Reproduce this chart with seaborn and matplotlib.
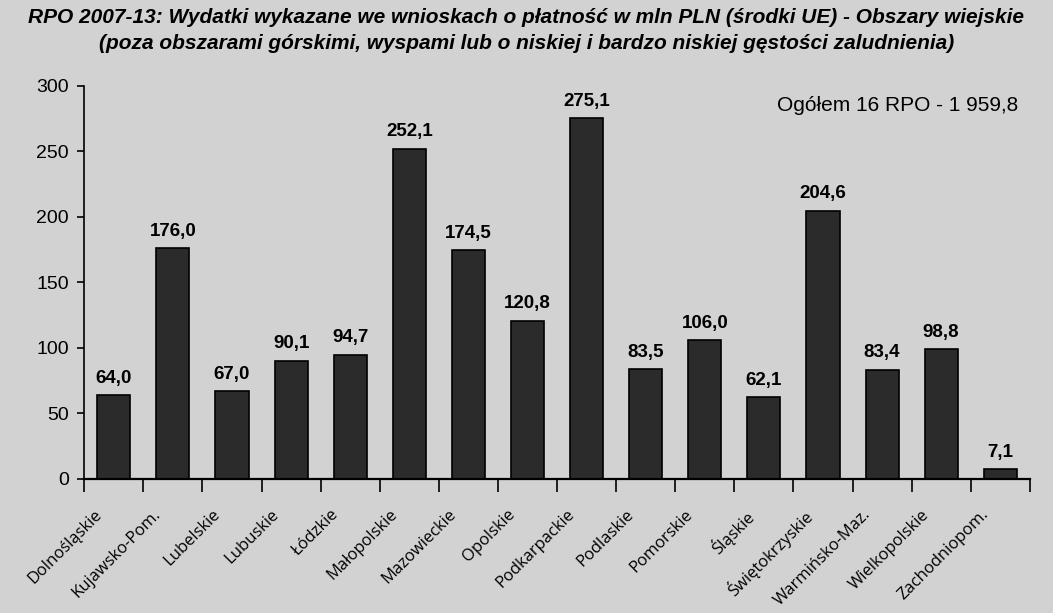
import seaborn as sns
import pandas as pd
import matplotlib.pyplot as plt
import matplotlib.transforms as mtrans

# Dane: wydatki w mln PLN (środki UE) wg województw
regiony = ['Dolnośląskie', 'Kujawsko-Pom.', 'Lubelskie', 'Lubuskie', 'Łódzkie',
           'Małopolskie', 'Mazowieckie', 'Opolskie', 'Podkarpackie', 'Podlaskie',
           'Pomorskie', 'Śląskie', 'Świętokrzyskie', 'Warmińsko-Maz.',
           'Wielkopolskie', 'Zachodniopom.']
wydatki = [64.0, 176.0, 67.0, 90.1, 94.7, 252.1, 174.5, 120.8, 275.1, 83.5,
           106.0, 62.1, 204.6, 83.4, 98.8, 7.1]
y_ticks = [0, 50, 100, 150, 200, 250, 300]

df = pd.DataFrame({'region': regiony, 'wydatki': wydatki})
suma = sum(wydatki)

sns.set_style('ticks')
plt.rcParams['font.family'] = ['Liberation Sans', 'DejaVu Sans']
plt.rcParams['text.color'] = 'black'
plt.rcParams['xtick.color'] = 'black'
plt.rcParams['ytick.color'] = 'black'
plt.rcParams['axes.edgecolor'] = 'black'

tlo = '#d2d2d2'
fig = plt.figure(figsize=(10.53, 6.13), dpi=100, facecolor=tlo)
ax = fig.add_axes([0.080, 0.219, 0.898, 0.641], facecolor=tlo)

sns.barplot(data=df, x='region', y='wydatki', color='#2b2b2b',
            edgecolor='black', linewidth=1.2, width=0.56, saturation=1, ax=ax)

# Podpisy wartości z przecinkiem dziesiętnym
etykiety = [f'{v:.1f}'.replace('.', ',') for v in wydatki]
ax.bar_label(ax.containers[0], labels=etykiety, padding=6,
             fontsize=13.5, fontweight='bold', color='black')

ax.set_ylim(0, 300)
ax.set_xlim(-0.4, len(regiony) - 0.5)
ax.set_yticks(y_ticks)
ax.set_yticklabels([str(t) for t in y_ticks], fontsize=14)
ax.set_xlabel('')
ax.set_ylabel('')

# Excel-owe kreski między kategoriami
ax.set_xticks(range(len(regiony)))
ax.set_xticklabels(regiony, rotation=45, ha='right', rotation_mode='anchor',
                   fontsize=12, family=['Open Sans', 'DejaVu Sans'])
ax.set_xticks([i + 0.5 for i in range(-1, len(regiony))], minor=True)
ax.tick_params(axis='x', which='major', length=0, pad=10)
ax.tick_params(axis='x', which='minor', length=9, width=1.2, color='black')
ax.tick_params(axis='y', length=5, width=1.2, color='black', pad=6)

# przesunięcie podpisów osi X w lewo i w dół
przes = mtrans.ScaledTranslation(-0.2, -0.14, fig.dpi_scale_trans)
for lbl in ax.get_xticklabels():
    lbl.set_transform(lbl.get_transform() + przes)

for s in ['top', 'right']:
    ax.spines[s].set_visible(False)
ax.spines['left'].set_linewidth(1.2)
ax.spines['bottom'].set_linewidth(1.6)

ax.text(0.988, 0.95, f'Ogółem 16 RPO - {suma:,.1f}'.replace(',', ' ').replace('.', ','),
        transform=ax.transAxes, ha='right', va='center', fontsize=15)

fig.text(0.5, 0.987,
         'RPO 2007-13: Wydatki wykazane we wnioskach o płatność w mln PLN (środki UE) - Obszary wiejskie\n'
         '(poza obszarami górskimi, wyspami lub o niskiej i bardzo niskiej gęstości zaludnienia)',
         ha='center', va='top', fontsize=15, fontweight='bold', style='italic',
         linespacing=1.5)

fig.savefig('out.png', dpi=100, facecolor=tlo)
